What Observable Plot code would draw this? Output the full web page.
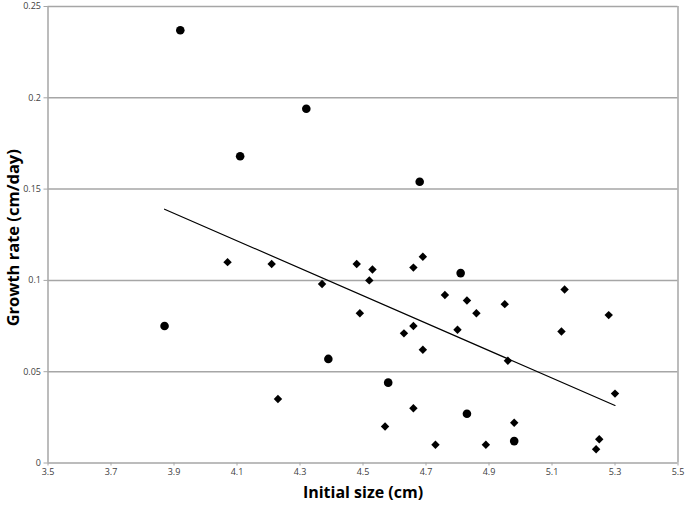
<!DOCTYPE html>
<html>
<head>
<meta charset="utf-8">
<script src="https://cdn.jsdelivr.net/npm/d3@7"></script>
<script src="https://cdn.jsdelivr.net/npm/@observablehq/plot@0.6"></script>
<style>
  html, body { margin: 0; padding: 0; background: #fff; }
  #chart { width: 686px; height: 505px; }
</style>
</head>
<body>
<div id="chart"></div>
<script>
// Circle series
const circleX = [3.92, 4.11, 4.32, 4.68, 3.87, 4.39, 4.58, 4.81, 4.83, 4.98];
const circleY = [0.237, 0.168, 0.194, 0.154, 0.075, 0.057, 0.044, 0.104, 0.027, 0.012];
// Diamond series
const diamondX = [4.07, 4.21, 4.37, 4.23, 4.48, 4.53, 4.52, 4.49, 4.66, 4.69, 4.76, 4.83, 4.86, 4.95, 4.66,
                  4.63, 4.80, 4.69, 4.96, 5.14, 5.13, 5.28, 5.30, 4.66, 4.57, 4.73, 4.89, 4.98, 5.25, 5.24];
const diamondY = [0.110, 0.109, 0.098, 0.035, 0.109, 0.106, 0.100, 0.082, 0.107, 0.113, 0.092, 0.089, 0.082, 0.087, 0.075,
                  0.071, 0.073, 0.062, 0.056, 0.095, 0.072, 0.081, 0.038, 0.030, 0.020, 0.010, 0.010, 0.022, 0.013, 0.0075];
// Trend line endpoints
const trendX = [3.87, 5.30];
const trendY = [0.139, 0.0315];
// Tick labels
const xTicks = [3.5, 3.7, 3.9, 4.1, 4.3, 4.5, 4.7, 4.9, 5.1, 5.3, 5.5];
const xTickLabels = ["3.5", "3.7", "3.9", "4.1", "4.3", "4.5", "4.7", "4.9", "5.1", "5.3", "5.5"];
const yTicks = [0, 0.05, 0.1, 0.15, 0.2, 0.25];
const yTickLabels = ["0", "0.05", "0.1", "0.15", "0.2", "0.25"];
const xLabel = "Initial size (cm)";
const yLabel = "Growth rate (cm/day)";

const circles = circleX.map((x, i) => ({x, y: circleY[i]}));
const diamonds = diamondX.map((x, i) => ({x, y: diamondY[i]}));
const trend = trendX.map((x, i) => ({x, y: trendY[i]}));

const gridColor = "#a6a6a6";
const font = "'Open Sans', 'Noto Sans', sans-serif";

const chart = Plot.plot({
  width: 686,
  height: 505,
  marginLeft: 47.5,
  marginRight: 8.5,
  marginTop: 6,
  marginBottom: 42.5,
  style: { fontFamily: font, background: "#fff" },
  x: { domain: [3.5, 5.5] },
  y: { domain: [0, 0.25] },
  marks: [
    Plot.ruleY(yTicks.slice(1), { stroke: gridColor, strokeWidth: 1.5 }),
    Plot.ruleX([5.5], { stroke: gridColor, strokeWidth: 1.5 }),
    Plot.ruleX([3.5], { stroke: gridColor, strokeWidth: 1.5 }),
    Plot.ruleY([0], { stroke: gridColor, strokeWidth: 1.5 }),
    Plot.axisX({
      ticks: xTicks,
      tickSize: 3,
      tickPadding: 3,
      tickFormat: (d) => xTickLabels[xTicks.indexOf(d)],
      stroke: gridColor,
      fill: "#404040",
      fontSize: 9,
      label: null
    }),
    Plot.axisY({
      ticks: yTicks,
      tickSize: 4,
      tickPadding: 3,
      tickFormat: (d) => yTickLabels[yTicks.indexOf(d)],
      stroke: gridColor,
      fill: "#404040",
      fontSize: 9,
      label: null
    }),
    Plot.line(trend, { x: "x", y: "y", stroke: "#000", strokeWidth: 1.2 }),
    Plot.dot(circles, { x: "x", y: "y", r: 4.3, fill: "#000", stroke: null }),
    Plot.dot(diamonds, { x: "x", y: "y", r: 3.8, symbol: "diamond2", fill: "#000", stroke: null }),
    Plot.text([xLabel], {
      frameAnchor: "bottom", dy: 35, fontSize: 16, fontWeight: "bold", fill: "#000", fontFamily: font
    }),
    Plot.text([yLabel], {
      frameAnchor: "left", dx: -34, dy: 3, rotate: -90, textAnchor: "middle",
      fontSize: 16.5, fontWeight: "bold", fill: "#000", fontFamily: font
    })
  ]
});
document.getElementById("chart").appendChild(chart);
</script>
</body>
</html>
